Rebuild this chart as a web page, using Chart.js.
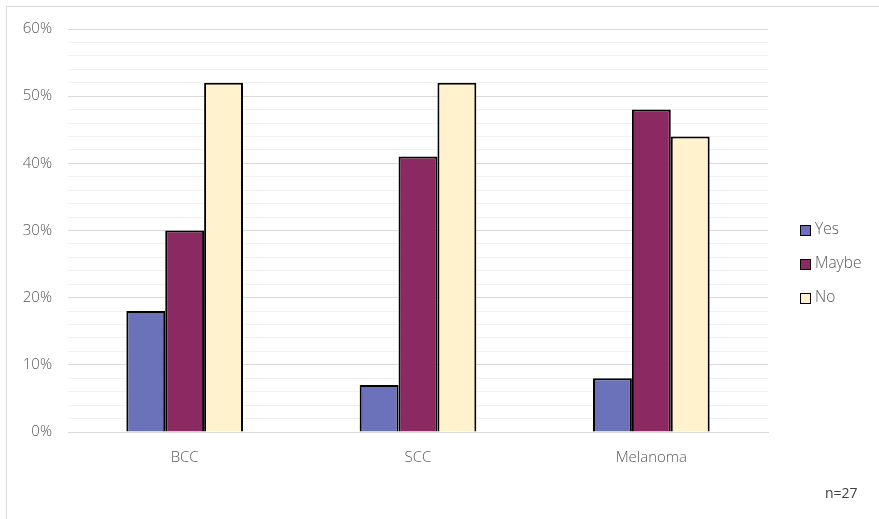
<!DOCTYPE html>
<html>
<head>
<meta charset="utf-8">
<script src="https://cdn.jsdelivr.net/npm/chart.js@4/dist/chart.umd.min.js"></script>
<style>
  html, body { margin: 0; padding: 0; background: #ffffff; }
  #wrap { position: relative; width: 879px; height: 519px; }
</style>
</head>
<body>
<div id="wrap"><canvas id="c" width="879" height="519"></canvas></div>
<script>
const categories = ['BCC', 'SCC', 'Melanoma'];
const seriesNames = ['Yes', 'Maybe', 'No'];
const yesValues = [18, 7, 8];
const maybeValues = [30, 41, 48];
const noValues = [52, 52, 44];
const yTickLabels = ['0%', '10%', '20%', '30%', '40%', '50%', '60%'];
const sampleNote = 'n=27';

const colors = ['#6B72B9', '#8B2962', '#FFF2CC'];
const FONT = '"Open Sans", Lato, sans-serif';
const TEXT = '#595959';

const framePlugin = {
  id: 'frame',
  beforeDraw(chart) {
    const ctx = chart.ctx;
    ctx.save();
    ctx.fillStyle = '#ffffff';
    ctx.fillRect(0, 0, chart.width, chart.height);
    ctx.strokeStyle = '#D9D9D9';
    ctx.lineWidth = 1;
    ctx.strokeRect(6.5, 6.5, chart.width + 20, chart.height + 20);
    ctx.restore();
  },
  afterDraw(chart) {
    const ctx = chart.ctx;
    ctx.save();
    // legend
    ctx.font = '300 15.5px ' + FONT;
    ctx.textBaseline = 'middle';
    const lx = 800, ly0 = 230, step = 34;
    chart.data.datasets.forEach((ds, i) => {
      const y = ly0 + i * step;
      ctx.fillStyle = ds.backgroundColor;
      ctx.fillRect(lx, y - 5, 11, 11);
      ctx.strokeStyle = '#000000';
      ctx.lineWidth = 1;
      ctx.strokeRect(lx + 0.5, y - 4.5, 10, 10);
      ctx.fillStyle = TEXT;
      ctx.textAlign = 'left';
      ctx.fillText(ds.label, lx + 15, y);
    });
    // note
    ctx.font = '14px ' + FONT;
    ctx.fillStyle = '#404040';
    ctx.textAlign = 'left';
    ctx.fillText(sampleNote, 825, 494);
    ctx.restore();
  }
};

new Chart(document.getElementById('c'), {
  type: 'bar',
  data: {
    labels: categories,
    datasets: [
      { label: seriesNames[0], data: yesValues, backgroundColor: colors[0] },
      { label: seriesNames[1], data: maybeValues, backgroundColor: colors[1] },
      { label: seriesNames[2], data: noValues, backgroundColor: colors[2] }
    ].map(d => Object.assign(d, { borderColor: '#000000', borderWidth: 2, categoryPercentage: 0.5, barPercentage: 1.0 }))
  },
  options: {
    responsive: false,
    animation: false,
    devicePixelRatio: 1,
    layout: { padding: { left: 0, top: 29, right: 111, bottom: 42 } },
    plugins: {
      legend: { display: false },
      tooltip: { enabled: false }
    },
    scales: {
      x: {
        grid: { display: false, drawTicks: false },
        border: { display: true, color: '#D9D9D9', width: 1 },
        ticks: { color: TEXT, font: { family: FONT, size: 15, weight: 300 }, padding: 17 },
        afterFit(scale) { scale.height = 45; }
      },
      y: {
        min: 0,
        max: 60,
        grid: {
          drawTicks: false,
          color: ctx => (ctx.tick && ctx.tick.value % 10 === 0) ? '#D9D9D9' : '#F2F2F2',
          lineWidth: 1
        },
        border: { display: false },
        ticks: {
          stepSize: 2,
          autoSkip: false,
          color: TEXT,
          font: { family: FONT, size: 15, weight: 300 },
          padding: 16,
          callback: v => (v % 10 === 0) ? yTickLabels[v / 10] : ''
        },
        afterFit(scale) { scale.width = 68; }
      }
    }
  },
  plugins: [framePlugin]
});
</script>
</body>
</html>
